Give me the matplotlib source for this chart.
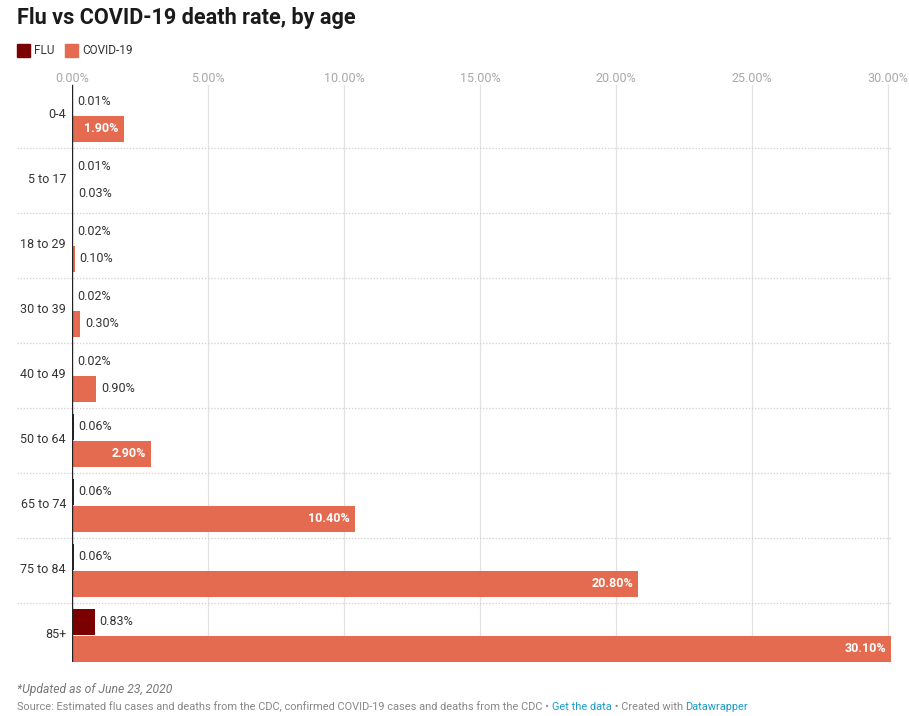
import numpy as np
import matplotlib
matplotlib.use("Agg")
import matplotlib.pyplot as plt

plt.rcParams['font.family'] = ['Roboto', 'DejaVu Sans']

ages = ['0-4', '5 to 17', '18 to 29', '30 to 39', '40 to 49',
        '50 to 64', '65 to 74', '75 to 84', '85+']
flu = [0.01, 0.01, 0.02, 0.02, 0.02, 0.06, 0.06, 0.06, 0.83]
covid = [1.90, 0.03, 0.10, 0.30, 0.90, 2.90, 10.40, 20.80, 30.10]
ticks = [0, 5, 10, 15, 20, 25, 30]

FLU_C = '#7b0000'
COVID_C = '#e46b50'
TXT = '#333333'

W, H = 909, 716
fig = plt.figure(figsize=(W / 100, H / 100), dpi=100)


def px(x, y):
    return x / W, 1 - y / H


# one row group = 65 px, first group starts at y=83
left, right, top, bottom = 72, 891, 83, 662
ax = fig.add_axes([left / W, 1 - bottom / H, (right - left) / W, (bottom - top) / H])
ax.set_xlim(0, 30.1)
ax.set_ylim((bottom - top) / 65, 0)
ax.set_yticks([])
ax.set_xticks([])
for s in ax.spines.values():
    s.set_visible(False)

# grid
for t in ticks[1:]:
    ax.axvline(t, ymax=1 - 2 / (bottom - top), color='#e2e2e2', lw=0.9, zorder=0)
for i in range(1, len(ages)):
    ax.plot([-55 / 819, 1], [i, i], transform=ax.get_yaxis_transform(),
            color='#cfcfcf', lw=0.9, ls=(0, (1, 1.5)), clip_on=False, zorder=0)
ax.axvline(0, ymax=1 - 2 / (bottom - top), color='#222222', lw=1.0, zorder=3)

# tick labels on top
for t in ticks:
    xf = (left + t / 30.1 * (right - left)) / W
    fig.text(xf, 1 - 78 / H, '%.2f%%' % t, ha='center', va='center',
             fontsize=9, color='#a8a8a8')

y = np.arange(len(ages))
ax.barh(y + 0.292, flu, height=0.40, color=FLU_C, zorder=2)
ax.barh(y + 0.705, covid, height=0.41, color=COVID_C, zorder=2)

pad = 5 * 30.1 / 819
for i in range(len(ages)):
    ax.text(flu[i] + pad, i + 0.28, '%.2f%%' % flu[i], ha='left', va='center',
            fontsize=9, color=TXT)
    if covid[i] > 1.5:
        ax.text(covid[i] - pad, i + 0.705, '%.2f%%' % covid[i], ha='right',
                va='center', fontsize=9, color='white', fontweight='bold')
    else:
        ax.text(covid[i] + pad, i + 0.705, '%.2f%%' % covid[i], ha='left',
                va='center', fontsize=9, color=TXT)
    ax.text(-6 * 30.1 / 819, i + 0.49, ages[i], ha='right', va='center',
            fontsize=9, color=TXT)

# title and legend
fig.text(*px(17, 18), 'Flu vs COVID-19 death rate, by age', fontsize=15.6,
         fontweight='bold', color='#1a1a1a', ha='left', va='center')
fig.patches.append(plt.Rectangle(px(17, 57), 13 / W, 13 / H, color=FLU_C,
                                 transform=fig.transFigure, figure=fig))
fig.text(*px(34, 50.5), 'FLU', fontsize=8.5, color=TXT, va='center')
fig.patches.append(plt.Rectangle(px(65, 57), 13 / W, 13 / H, color=COVID_C,
                                 transform=fig.transFigure, figure=fig))
fig.text(*px(82, 50.5), 'COVID-19', fontsize=8.5, color=TXT, va='center')

# footer
fig.text(*px(17, 689), '*Updated as of June 23, 2020', fontsize=8.75,
         style='italic', color='#777777', va='center')
parts = [('Source: Estimated flu cases and deaths from the CDC, confirmed COVID-19 '
          'cases and deaths from the CDC \u2022 ', '#888888'),
         ('Get the data', '#1d9bc7'),
         (' \u2022 Created with ', '#888888'),
         ('Datawrapper', '#1d9bc7')]
renderer = fig.canvas.get_renderer()
x0 = 17
for txt, col in parts:
    t = fig.text(*px(x0, 707), txt, fontsize=7.9, color=col, va='center')
    x0 += t.get_window_extent(renderer).width

fig.savefig('out.png', dpi=100)
